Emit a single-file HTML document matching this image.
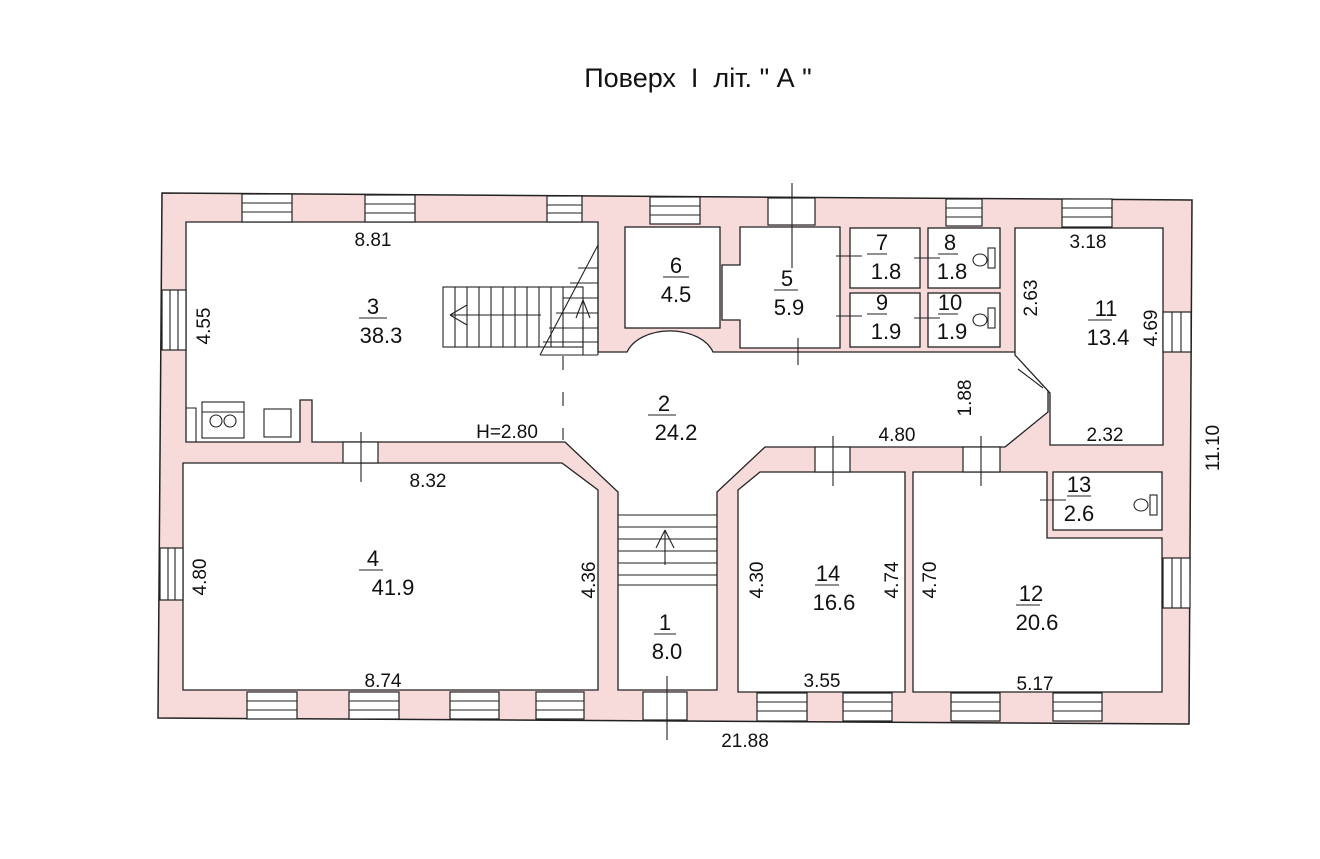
<!DOCTYPE html>
<html><head><meta charset="utf-8"><style>
html,body{margin:0;padding:0;background:#fff;}
svg{display:block;}
text{font-family:"Liberation Sans",sans-serif;fill:#111;}
</style></head><body>
<svg width="1320" height="859" viewBox="0 0 1320 859" xmlns="http://www.w3.org/2000/svg">
<text x="698" y="87" font-size="27" text-anchor="middle" xml:space="preserve">Поверх  І  літ. " А "</text>

<polygon points="162,193 1192,200 1189,724 158,718" fill="#f7dada" stroke="#222" stroke-width="1.5"/>

<g fill="#fff" stroke="#222" stroke-width="1.3">
<path d="M186,222 L598,222 L598,352 L627,352 A45,30 0 0 1 713,352 L1015,352 L1048,390 L1048,412 L1005,447 L765,447 L717,492 L717,690 L618,690 L618,492 L565,442 L312,442 L312,400 L300,400 L300,442 L186,442 Z"/>
<rect x="625" y="227" width="95" height="101"/>
<path d="M740,227 L840,227 L840,348 L740,348 L740,320 L722,320 L722,265 L740,265 Z"/>
<rect x="850" y="228" width="70" height="60"/>
<rect x="928" y="228" width="72" height="60"/>
<rect x="850" y="293" width="70" height="54"/>
<rect x="928" y="293" width="72" height="54"/>
<path d="M1015,228 L1163,228 L1163,445 L1050,445 L1050,393 L1015,355 Z"/>
<path d="M183,463 L562,463 L598,490 L598,690 L183,690 Z"/>
<path d="M738,490 L760,472 L905,472 L905,692 L738,692 Z"/>
<path d="M913,472 L1047,472 L1047,538 L1162,538 L1162,692 L913,692 Z"/>
<rect x="1053" y="472" width="109" height="58"/>
</g>

<g fill="#fff" stroke="#222" stroke-width="1.2">
<rect x="242" y="194" width="50" height="28"/><rect x="365" y="195" width="50" height="27"/>
<rect x="547" y="196" width="35" height="26"/><rect x="650" y="197" width="50" height="27"/>
<rect x="768" y="198" width="47" height="27"/><rect x="946" y="199" width="36" height="27"/>
<rect x="1062" y="199" width="50" height="28"/>
<rect x="247" y="692" width="50" height="27"/><rect x="349" y="692" width="50" height="27"/>
<rect x="450" y="692" width="49" height="27"/><rect x="536" y="692" width="48" height="27"/>
<rect x="643" y="692" width="44" height="28"/>
<rect x="757" y="693" width="50" height="28"/><rect x="843" y="693" width="49" height="28"/>
<rect x="951" y="693" width="49" height="28"/><rect x="1053" y="693" width="49" height="28"/>
<rect x="162" y="290" width="24" height="60"/><rect x="160" y="548" width="23" height="52"/>
<rect x="1163" y="312" width="28" height="40"/><rect x="1163" y="558" width="27" height="50"/>
<rect x="343" y="442" width="35" height="21"/><rect x="815" y="447" width="35" height="25"/>
<rect x="963" y="447" width="37" height="25"/>
</g>
<g stroke="#222" stroke-width="1.1" fill="none">
<path d="M242,203H292M242,212H292M365,204H415M365,213H415M547,205H582M547,213H582M650,206H700M650,215H700M946,208H982M946,217H982M1062,208H1112M1062,217H1112"/>
<path d="M247,701H297M247,710H297M349,701H399M349,710H399M450,701H499M450,710H499M536,701H584M536,710H584M757,702H807M757,711H807M843,702H892M843,711H892M951,702H1000M951,711H1000M1053,702H1102M1053,711H1102"/>
<path d="M170,290V350M178,290V350M168,548V600M175,548V600M1172,312V352M1181,312V352M1172,558V608M1181,558V608"/>
<path d="M792,183V268M798,338V365M361,432V482M833,436V486M981,436V486M667,676V740M1018,369L1043,388"/>
<path d="M836,256H862M914,258H940M836,316H862M914,318H940M1040,500H1066"/>
<path d="M563,356V440" stroke-dasharray="14,22"/>
<rect x="443" y="287" width="140" height="60"/>
<path d="M455,287V347M467,287V347M479,287V347M491,287V347M503,287V347M515,287V347M527,287V347M539,287V347M551,287V347M563,287V347"/>
<path d="M450,315H541M450,315L467,305M450,315L467,325"/>
<path d="M540,355L598,245M598,245V355M540,355H598"/>
<path d="M578,268H598M570,283H598M563,298H598M556,313H598M549,328H598M543,342H598M583,320V355M583,300L576,318M583,300L590,318"/>
<path d="M618,515H717M618,527H717M618,539H717M618,551H717M618,563H717M618,575H717M618,585H717"/>
<path d="M665,565V530M665,530L656,548M665,530L674,548"/>
<rect x="202" y="402" width="42" height="36"/><path d="M202,412H244"/><circle cx="216" cy="421" r="6"/><circle cx="230" cy="421" r="6"/>
<rect x="264" y="409" width="27" height="28"/><path d="M186,408H196V442"/>
<g><ellipse cx="980" cy="260" rx="7" ry="6"/><rect x="988" y="248" width="7" height="20"/></g>
<g><ellipse cx="980" cy="320" rx="7" ry="6"/><rect x="988" y="308" width="7" height="20"/></g>
<g><ellipse cx="1141" cy="505" rx="7" ry="6"/><rect x="1150" y="495" width="7" height="20"/></g>
</g>
<g stroke="#222" stroke-width="1">
<path d="M359,318H387M663,277H689M774,290H798M867,254H887M938,254H958M867,314H887M938,314H958M1088,320H1112M648,415H676M359,570H383M654,634H676M815,585H839M1016,605H1040M1067,496H1091"/>
</g>
<g font-size="22" text-anchor="middle">
<text x="373" y="314">3</text><text x="381" y="343">38.3</text>
<text x="676" y="273">6</text><text x="676" y="302">4.5</text>
<text x="787" y="286">5</text><text x="789" y="315">5.9</text>
<text x="882" y="250">7</text><text x="886" y="279">1.8</text>
<text x="950" y="250">8</text><text x="952" y="279">1.8</text>
<text x="882" y="310">9</text><text x="886" y="339">1.9</text>
<text x="950" y="310">10</text><text x="952" y="339">1.9</text>
<text x="1106" y="316">11</text><text x="1108" y="345">13.4</text>
<text x="664" y="411">2</text><text x="676" y="440">24.2</text>
<text x="373" y="566">4</text><text x="393" y="595">41.9</text>
<text x="665" y="630">1</text><text x="667" y="659">8.0</text>
<text x="828" y="581">14</text><text x="834" y="610">16.6</text>
<text x="1031" y="601">12</text><text x="1037" y="630">20.6</text>
<text x="1079" y="492">13</text><text x="1079" y="521">2.6</text>
</g>
<g font-size="19" text-anchor="middle">
<text x="373" y="246">8.81</text><text x="1088" y="248">3.18</text>
<text x="1105" y="441">2.32</text><text x="897" y="441">4.80</text>
<text x="428" y="487">8.32</text><text x="383" y="687">8.74</text>
<text x="822" y="687">3.55</text><text x="1035" y="690">5.17</text>
<text x="745" y="747">21.88</text>
<text x="507" y="438" fill="#555">H=2.80</text>
<text transform="translate(210,326) rotate(-90)">4.55</text>
<text transform="translate(206,577) rotate(-90)">4.80</text>
<text transform="translate(595,580) rotate(-90)">4.36</text>
<text transform="translate(763,580) rotate(-90)">4.30</text>
<text transform="translate(898,580) rotate(-90)">4.74</text>
<text transform="translate(936,580) rotate(-90)">4.70</text>
<text transform="translate(1037,298) rotate(-90)">2.63</text>
<text transform="translate(1157,328) rotate(-90)">4.69</text>
<text transform="translate(971,398) rotate(-90)">1.88</text>
<text transform="translate(1219,448) rotate(-90)">11.10</text>
</g>
</svg>
</body></html>
